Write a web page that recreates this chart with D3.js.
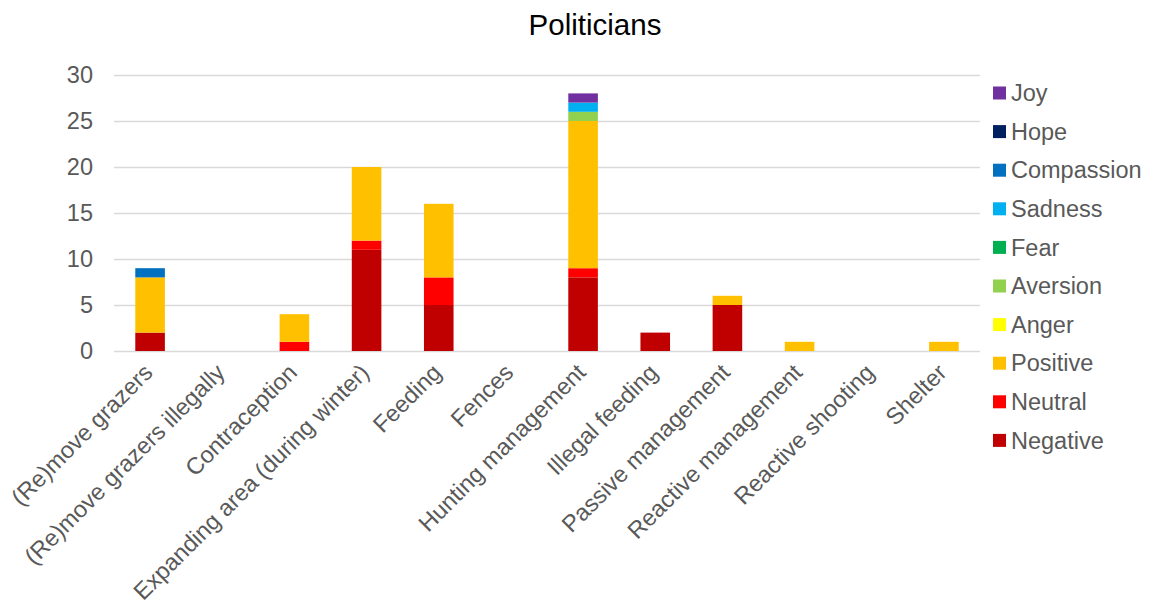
<!DOCTYPE html>
<html>
<head>
<meta charset="utf-8">
<script src="https://cdn.jsdelivr.net/npm/d3@7"></script>
<style>
  body { margin: 0; background: #fff; }
  svg { display: block; font-family: "Liberation Sans", Arial, sans-serif; }
</style>
</head>
<body>
<svg id="chart" width="1149" height="614"></svg>
<script>
// Management strategies on the x axis
const categories = [
  "(Re)move grazers",
  "(Re)move grazers illegally",
  "Contraception",
  "Expanding area (during winter)",
  "Feeding",
  "Fences",
  "Hunting management",
  "Illegal feeding",
  "Passive management",
  "Reactive management",
  "Reactive shooting",
  "Shelter"
];

// Stack order, bottom to top
const seriesNames = ["Negative", "Neutral", "Positive", "Anger", "Aversion", "Fear", "Sadness", "Compassion", "Hope", "Joy"];

// Counts per category, one array per emotion
const negative   = [2, 0, 0, 11, 5, 0, 8, 2, 5, 0, 0, 0];
const neutral    = [0, 0, 1, 1, 3, 0, 1, 0, 0, 0, 0, 0];
const positive   = [6, 0, 3, 8, 8, 0, 16, 0, 1, 1, 0, 1];
const anger      = [0, 0, 0, 0, 0, 0, 0, 0, 0, 0, 0, 0];
const aversion   = [0, 0, 0, 0, 0, 0, 1, 0, 0, 0, 0, 0];
const fear       = [0, 0, 0, 0, 0, 0, 0, 0, 0, 0, 0, 0];
const sadness    = [0, 0, 0, 0, 0, 0, 1, 0, 0, 0, 0, 0];
const compassion = [1, 0, 0, 0, 0, 0, 0, 0, 0, 0, 0, 0];
const hope       = [0, 0, 0, 0, 0, 0, 0, 0, 0, 0, 0, 0];
const joy        = [0, 0, 0, 0, 0, 0, 1, 0, 0, 0, 0, 0];

const yTicks = [0, 5, 10, 15, 20, 25, 30];

const colors = {
  Negative: "#C00000", Neutral: "#FF0000", Positive: "#FFC000", Anger: "#FFFF00",
  Aversion: "#92D050", Fear: "#00B050", Sadness: "#00B0F0", Compassion: "#0070C0",
  Hope: "#002060", Joy: "#7030A0"
};

const seriesValues = {
  Negative: negative, Neutral: neutral, Positive: positive, Anger: anger,
  Aversion: aversion, Fear: fear, Sadness: sadness, Compassion: compassion,
  Hope: hope, Joy: joy
};

const rows = categories.map((c, i) => {
  const r = { category: c };
  seriesNames.forEach(s => r[s] = seriesValues[s][i]);
  return r;
});

const svg = d3.select("#chart");
const margin = { left: 114, right: 169, top: 75, bottom: 263 };
const W = 1149, H = 614;
const labelSize = 23.5;

const x = d3.scaleBand().domain(categories)
  .range([margin.left, W - margin.right]).paddingInner(0.59).paddingOuter(0.295);
const y = d3.scaleLinear().domain([0, 30]).range([H - margin.bottom, margin.top]);

// Title
svg.append("text")
  .attr("x", 595).attr("y", 35)
  .attr("text-anchor", "middle")
  .attr("font-size", 29.5).attr("fill", "#000")
  .text("Politicians");

// Gridlines and y labels
const yAxis = d3.axisLeft(y).tickValues(yTicks).tickSize(-(W - margin.right - margin.left)).tickPadding(21);
const gy = svg.append("g").attr("transform", `translate(${margin.left},0)`).call(yAxis);
gy.select(".domain").remove();
gy.selectAll(".tick line").attr("stroke", "#D9D9D9").attr("stroke-width", 1.5);
gy.selectAll(".tick text").attr("font-size", labelSize).attr("fill", "#595959")
  .attr("font-family", "Liberation Sans, Arial, sans-serif");

// Stacked bars
const stacked = d3.stack().keys(seriesNames)(rows);
svg.append("g").selectAll("g")
  .data(stacked).join("g")
  .attr("fill", d => colors[d.key])
  .selectAll("rect")
  .data(d => d.filter(p => p[1] - p[0] > 0))
  .join("rect")
  .attr("x", d => x(d.data.category))
  .attr("width", x.bandwidth())
  .attr("y", d => y(d[1]))
  .attr("height", d => y(d[0]) - y(d[1]));

// Category labels
const xAxis = d3.axisBottom(x).tickSize(0).tickPadding(0);
const gx = svg.append("g").attr("transform", `translate(0,${H - margin.bottom})`).call(xAxis);
gx.select(".domain").remove();
gx.selectAll(".tick text")
  .attr("font-size", labelSize).attr("fill", "#595959")
  .attr("font-family", "Liberation Sans, Arial, sans-serif")
  .attr("text-anchor", "end")
  .attr("dy", null)
  .attr("transform", "translate(4,23) rotate(-45)");

// Legend, top to bottom in reverse stack order
const legendNames = seriesNames.slice().reverse();
const lg = svg.append("g").attr("transform", "translate(993,93)");
const item = lg.selectAll("g").data(legendNames).join("g")
  .attr("transform", (d, i) => `translate(0,${i * 38.6})`);
item.append("rect").attr("x", 0).attr("y", -6.5).attr("width", 13).attr("height", 13)
  .attr("fill", d => colors[d]);
item.append("text").attr("x", 18).attr("y", 0).attr("dy", "0.35em")
  .attr("font-size", labelSize).attr("fill", "#595959").text(d => d);
</script>
</body>
</html>
